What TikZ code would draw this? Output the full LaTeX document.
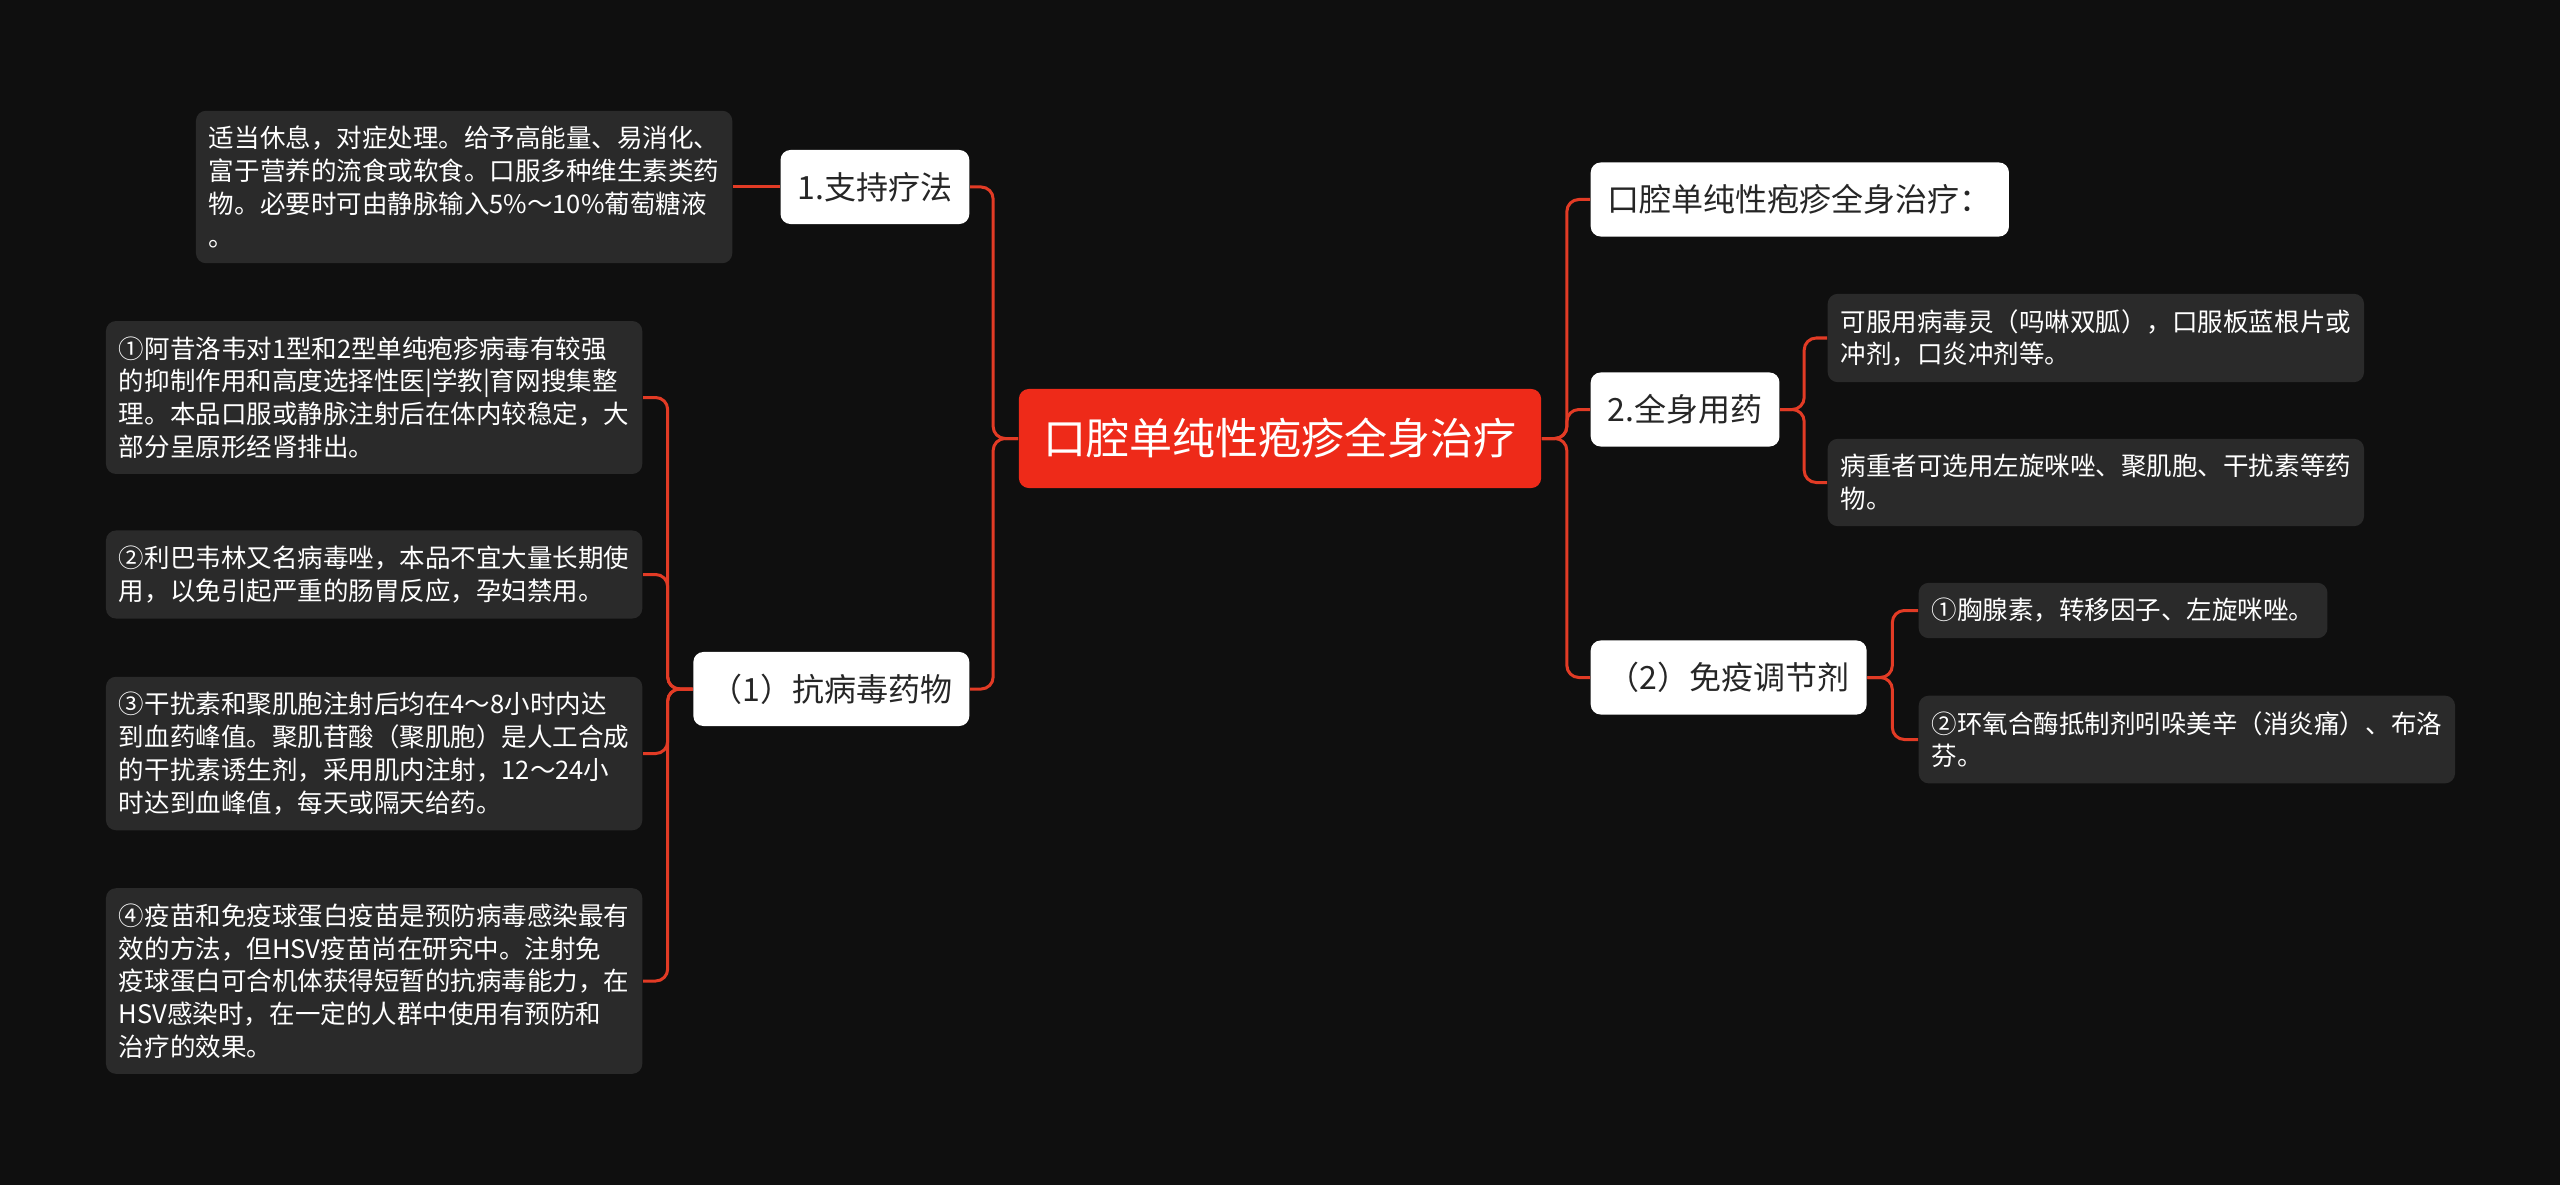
\documentclass[tikz,border=0pt]{standalone}
\usepackage{fontspec}
\setmainfont{Noto Sans CJK SC}
\definecolor{bg}{HTML}{0F0F0F}
\definecolor{card}{HTML}{2A2A2A}
\definecolor{wire}{HTML}{E23B25}
\definecolor{rootred}{HTML}{EE2A19}

\begin{document}
\begin{tikzpicture}[x=0.01cm, y=-0.01cm,
		link/.style={draw=wire, line width=0.03cm, rounded corners=0.12cm},
		note/.style={fill=card, text=white, rounded corners=0.1cm, align=left, inner xsep=0.13cm, inner ysep=0.155cm, font=\fontsize{0.255cm}{0.327cm}\selectfont},
		topic/.style={fill=white, text=black!85, rounded corners=0.1cm, inner xsep=0.17cm, minimum height=0.74cm, font=\fontsize{0.32cm}{0.4cm}\selectfont},
		rootbox/.style={fill=rootred, text=white, rounded corners=0.1cm, inner xsep=0.245cm, minimum height=0.99cm, font=\fontsize{0.43cm}{0.5cm}\selectfont}]
		\fill[bg] (0,0) rectangle (2560,1185);
		\useasboundingbox (0,0) rectangle (2560,1185);
		% centre
		\node[rootbox] (root) at (1280,438.5) {口腔单纯性疱疹全身治疗};
		% left side
		\node[topic, anchor=east] (sup) at (970,187) {1.支持疗法};
		\node[note, anchor=east] (supT) at (733,187) {适当休息，对症处理。给予高能量、易消化、\\富于营养的流食或软食。口服多种维生素类药\\物。必要时可由静脉输入5\%～10\%葡萄糖液\\。};
		\node[topic, anchor=east] (anti) at (970,689) {（1）抗病毒药物};
		\node[note, anchor=east] (a1) at (643,397.5) {①阿昔洛韦对1型和2型单纯疱疹病毒有较强\\的抑制作用和高度选择性医|学教|育网搜集整\\理。本品口服或静脉注射后在体内较稳定，大\\部分呈原形经肾排出。};
		\node[note, anchor=east] (a2) at (643,574.5) {②利巴韦林又名病毒唑，本品不宜大量长期使\\用，以免引起严重的肠胃反应，孕妇禁用。};
		\node[note, anchor=east] (a3) at (643,753.5) {③干扰素和聚肌胞注射后均在4～8小时内达\\到血药峰值。聚肌苷酸（聚肌胞）是人工合成\\的干扰素诱生剂，采用肌内注射，12～24小\\时达到血峰值，每天或隔天给药。};
		\node[note, anchor=east] (a4) at (643,981) {④疫苗和免疫球蛋白疫苗是预防病毒感染最有\\效的方法，但HSV疫苗尚在研究中。注射免\\疫球蛋白可合机体获得短暂的抗病毒能力，在\\HSV感染时，在一定的人群中使用有预防和\\治疗的效果。};
		% right side
		\node[topic, anchor=west] (title) at (1590,199.5) {口腔单纯性疱疹全身治疗：};
		\node[topic, anchor=west] (sys) at (1590,409.5) {2.全身用药};
		\node[topic, anchor=west] (imm) at (1590,677.5) {（2）免疫调节剂};
		\node[note, anchor=west] (s1) at (1827,338) {可服用病毒灵（吗啉双胍），口服板蓝根片或\\冲剂，口炎冲剂等。};
		\node[note, anchor=west] (s2) at (1827,482.5) {病重者可选用左旋咪唑、聚肌胞、干扰素等药\\物。};
		\node[note, anchor=west] (i1) at (1918,610.5) {①胸腺素，转移因子、左旋咪唑。};
		\node[note, anchor=west] (i2) at (1918,739.5) {②环氧合酶抵制剂吲哚美辛（消炎痛）、布洛\\芬。};
		% connectors
		\draw[link] (root.west) -- ++(-25,0) |- (sup.east);
		\draw[link] (root.west) -- ++(-25,0) |- (anti.east);
		\draw[link] (sup.west) -- (supT.east);
		\foreach \n in {a1,a2,a3,a4}
			\draw[link] (anti.west) -- ++(-25,0) |- (\n.east);
		\foreach \n in {title,sys,imm}
			\draw[link] (root.east) -- ++(25,0) |- (\n.west);
		\foreach \n in {s1,s2}
			\draw[link] (sys.east) -- ++(24,0) |- (\n.west);
		\foreach \n in {i1,i2}
			\draw[link] (imm.east) -- ++(25,0) |- (\n.west);
	\end{tikzpicture}
\end{document}
